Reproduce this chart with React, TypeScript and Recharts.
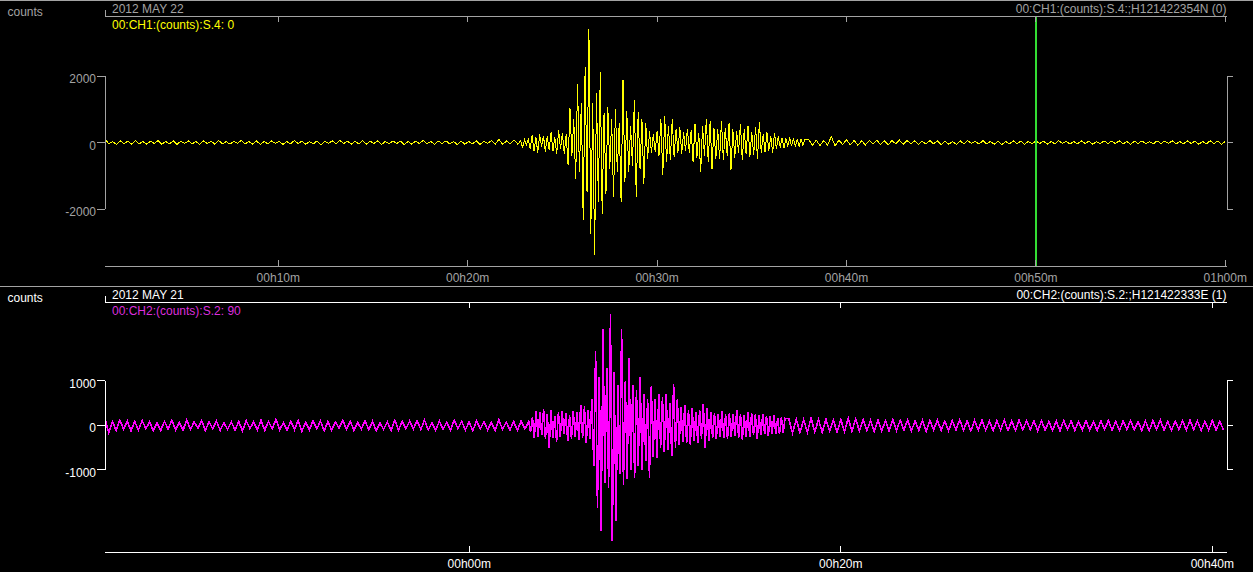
import React from 'react'
import { LineChart, Line, XAxis, YAxis, ReferenceLine } from 'recharts'

// CH1 – counts sampled in blocks (start minute, step in minutes)
const ch1PreStart = 0.85
const ch1PreStep = 0.2
const ch1Pre = [
  120, -40, 30, -60, 50, -30, 40, -50, 60, -40,
  30, -50, 40, -30, 60, -50, 30, -40, 50, -60,
  40, -30, 50, -40, 30, -60, 50, -30, 40, -50,
  60, -40, 30, -50, 40, -30, 70, -40, 30, -50,
  50, -60, 30, -40, 50, -30, 40, -60, 30, -40,
  60, -30, 40, -50, 30, -40, 50, -70, 40, -30,
  50, -40, 60, -30, 40, -50, 30, -40, 60, -50,
  40, -30, 50, -60, 30, -40, 50, -30, 40, -60,
  30, -50, 40, -30, 60, -40, 30, -50, 40, -30,
  50, -40, 30, -60, 40, -50, 30, -40, 50, -60,
  40, -30, 60, -50, 90, -60, 50, -40, 70, -50,
]
const ch1EventStart = 22.8
const ch1EventStep = 0.1
const ch1Event = [
  60, -160, 90, -70, 100, -180, 220, -250, 150, -300,
  240, -120, 200, -280, 180, -220, 300, -260, 150, -340,
  360, -200, 280, -330, 250, -690, 1040, -400, 700, -1100,
  1760, -900, 1200, -2340, 2260, -1500, 3410, -2740, 1200, -3390,
  1500, -1800, 2110, -2140, 900, -1540, 1060, -800, 700, -1640,
  1010, -900, 600, -1790, 1880, -1200, 960, -900, 500, -700,
  1280, -1640, 910, -800, 700, -1240, 600, -500, 350, -300,
  250, -280, 350, -400, 700, -990, 810, -600, 500, -540,
  710, -450, 400, -300, 460, -340, 300, -250, 420, -300,
  380, -600, 560, -450, 300, -890, 500, -400, 710, -600,
  650, -790, 450, -500, 400, -500, 660, -540, 450, -400,
  600, -840, 400, -450, 350, -300, 550, -540, 400, -350,
  500, -420, 300, -380, 480, -500, 610, -300, 250, -280,
  300, -250, 200, -300, 280, -200, 180, -150, 140, -160,
  130, -120, 150, -110, 120, -100, 90, -110, 100, -90,
  80,
]
const ch1CodaStart = 38.0
const ch1CodaStep = 0.2
const ch1Coda = [
  90, -80, 70, -90, 60, -80, 180, -100, 70, -60,
  80, -70, 60, -80, 50, -70, 60, -50, 70, -60,
  50, -70, 60, -40, 70, -50, 60, -40, 50, -60,
  40, -50, 60, -40, 50, -60, 40, -50, 30, -60,
  50, -40, 60, -30, 40, -50, 60, -40, 30, -50,
  40, -60, 30, -40, 50, -30, 40, -50, 30, -40,
  50, -30, 40, -50, 30, -40, 60, -30, 40, -50,
  30, -40, 50, -30, 40, -50, 30, -40, 50, -30,
  40, -30, 50, -40, 30, -50, 40, -30, 50, -40,
  30, -40, 50, -30, 40, -30, 50, -40, 30, -40,
  50, -30, 40, -50, 30, -40, 50, -30, 40, -50, 30,
]

// CH2
const ch2PreStart = -19.61
const ch2PreStep = 0.2
const ch2Pre = [
  150, -160, 90, -110, 120, -80, 100, -120, 90, -100,
  110, -70, 80, -120, 60, -110, 90, -80, 120, -100,
  70, -110, 130, -90, 80, -60, 110, -120, 90, -80,
  100, -110, 60, -90, 80, -100, 90, -120, 110, -70,
  80, -100, 120, -110, 90, -80, 140, -100, 60, -110,
  100, -90, 120, -130, 70, -100, 110, -80, 100, -120,
  90, -110, 80, -60, 120, -90, 100, -110, 70, -80,
  110, -100, 90, -120, 60, -90, 80, -110, 120, -100,
  90, -70, 100, -80, 110, -90, 120, -100, 60, -110,
  100, -90, 80, -110, 120, -70, 90, -100, 80, -120,
  110, -80, 90, -100, 70, -110, 130, -90, 80, -100,
  90, -110, 100, -80,
]
const ch2EventStart = 3.2
const ch2EventStep = 0.1
const ch2Event = [
  90, -150, 200, -280, 330, -260, 300, -220, 360, -300,
  250, -500, 340, -280, 220, -380, 300, -260, 320, -200,
  280, -350, 240, -300, 330, -260, 300, -320, 470, -280,
  430, -400, 350, -300, 600, -900, 1670, -1850, 1100, -2380,
  2160, -1300, 1300, -1400, 2510, -2600, 1200, -2150, 900, -1100,
  2160, -1330, 1000, -1200, 1520, -1000, 920, -1180, 800, -900,
  1100, -1000, 700, -800, 600, -1170, 880, -700, 600, -730,
  700, -500, 650, -600, 700, -550, 500, -690, 940, -500,
  600, -430, 420, -380, 470, -400, 350, -430, 400, -350,
  300, -400, 350, -300, 490, -500, 400, -350, 300, -280,
  280, -300, 260, -250, 320, -280, 250, -300, 280, -260,
  260, -230, 350, -280, 250, -320, 230, -260, 300, -250,
  280, -220, 250, -300, 230, -220, 260, -200, 220, -240,
  200, -180, 230, -190, 170, -200, 190, -170, 160,
]
const ch2CodaStart = 17.2
const ch2CodaStep = 0.2
const ch2Coda = [
  150, -170, 140, -160, 130, -150, 160, -140, 130, -150,
  140, -130, 120, -150, 130, -140, 170, -130, 150, -120,
  130, -120, 110, -140, 120, -130, 110, -120, 130, -110,
  120, -110, 130, -120, 100, -110, 120, -130, 110, -100,
  120, -110, 100, -120, 110, -100, 130, -110, 100, -120,
  110, -100, 120, -110, 100, -120, 110, -100, 120, -110,
  100, -110, 120, -100, 110, -90, 100, -120, 110, -100,
  90, -110, 100, -120, 110, -90, 100, -110, 90, -100,
  110, -100, 90, -110, 100, -90, 110, -100, 90, -110,
  100, -90, 110, -100, 90, -110, 100, -120, 110, -90,
  120, -100, 90, -110, 100, -90, 110, -100, 120, -90,
  100, -110, 90, -100, 110, -100, 90, -100,
]

const ch1TimeRange = [0.85, 60.09]
const ch1CountRange = [-3714, 3805]
const ch1TimeTicks = [10, 20, 30, 40, 50, 60]
const ch1TimeLabels = ['00h10m', '00h20m', '00h30m', '00h40m', '00h50m', '01h00m']
const ch1CountTicks = [-2000, 0, 2000]
const ch1Pick = 50

const ch2TimeRange = [-19.61, 40.79]
const ch2CountRange = [-2843, 2775]
const ch2TimeTicks = [0, 20, 40]
const ch2TimeLabels = ['00h00m', '00h20m', '00h40m']
const ch2CountTicks = [-1000, 0, 1000]

type Pt = { t: number; v: number }

function samples(blocks: [number, number, number[]][]): Pt[] {
  return blocks.flatMap(([start, step, vals]) =>
    vals.map((v, i) => ({ t: +(start + i * step).toFixed(3), v }))
  )
}

const ch1Data = samples([
  [ch1PreStart, ch1PreStep, ch1Pre],
  [ch1EventStart, ch1EventStep, ch1Event],
  [ch1CodaStart, ch1CodaStep, ch1Coda],
])
const ch2Data = samples([
  [ch2PreStart, ch2PreStep, ch2Pre],
  [ch2EventStart, ch2EventStep, ch2Event],
  [ch2CodaStart, ch2CodaStep, ch2Coda],
])

const FONT = '"Liberation Sans", Arial, sans-serif'

type PanelProps = {
  data: Pt[]
  timeRange: number[]
  countRange: number[]
  timeTicks: number[]
  timeLabels: string[]
  countTicks: number[]
  trace: string
  traceWidth: number
  frame: string
  pick?: number
}

function Panel(p: PanelProps) {
  const [t0, t1] = p.timeRange
  const cLo = p.countTicks[0]
  const cHi = p.countTicks[p.countTicks.length - 1]
  const label = (v: number) => p.timeLabels[p.timeTicks.indexOf(v)] ?? ''
  return (
    <LineChart width={1253} height={286} data={p.data} margin={{ top: 10, right: 16, bottom: 0, left: 55 }}>
      <XAxis
        dataKey="t" type="number" domain={p.timeRange} allowDataOverflow
        ticks={p.timeTicks} interval={0} height={20}
        axisLine={{ stroke: p.frame }} tickLine={false} tickSize={0} tickMargin={0}
        tick={(k: any) => (
          <g>
            <line x1={k.x} x2={k.x} y1={k.y} y2={k.y - 6} stroke={p.frame} />
            <text x={k.x} y={k.y + 15.5} textAnchor="middle" fill={p.frame} fontSize={12} fontFamily={FONT}>
              {label(k.payload.value)}
            </text>
          </g>
        )}
      />
      <XAxis
        xAxisId="top" orientation="top" dataKey="t" type="number" domain={p.timeRange} allowDataOverflow
        ticks={[t0, ...p.timeTicks]} interval={0} height={6}
        axisLine={{ stroke: p.frame }} tickLine={false} tickSize={0} tickMargin={0}
        tick={(k: any) => (
          <line x1={k.x} x2={k.x} y1={k.y} y2={k.payload.value === t0 ? k.y - 6 : k.y + 6} stroke={p.frame} />
        )}
      />
      <YAxis
        type="number" domain={p.countRange} allowDataOverflow ticks={p.countTicks} interval={0}
        width={50} axisLine={false} tickLine={{ stroke: p.frame }} tickSize={8} tickMargin={1}
        tick={(k: any) => (
          <text x={k.x} y={k.y + 7} textAnchor="end" fill={p.frame} fontSize={12} fontFamily={FONT}>
            {k.payload.value}
          </text>
        )}
      />
      <YAxis
        yAxisId="right" orientation="right" type="number" domain={p.countRange} allowDataOverflow
        ticks={p.countTicks} interval={0} width={10} axisLine={false}
        tickLine={false} tickSize={0} tickMargin={0}
        tick={(k: any) => <line x1={k.x} x2={k.x + 6} y1={k.y} y2={k.y} stroke={p.frame} />}
      />
      <Line type="linear" dataKey="v" stroke={p.trace} strokeWidth={p.traceWidth} dot={false} activeDot={false} isAnimationActive={false} />
      <ReferenceLine ifOverflow="visible" stroke={p.frame} segment={[{ x: t0, y: cHi }, { x: t0, y: cLo }]} />
      <ReferenceLine ifOverflow="visible" stroke={p.frame} segment={[{ x: t1, y: cHi }, { x: t1, y: cLo }]} />
      {p.pick !== undefined && <ReferenceLine x={p.pick} stroke="#33dd33" strokeWidth={2} />}
    </LineChart>
  )
}

export default function App() {
  const gray = '#a3a3a3'
  const white = '#ffffff'
  return (
    <div style={{ position: 'absolute', left: 0, top: 0, width: 1253, height: 572, background: '#000', overflow: 'hidden', fontFamily: FONT, shapeRendering: 'crispEdges' }}>
      <div style={{ position: 'absolute', left: 0, top: 0 }}>
        <Panel data={ch1Data} timeRange={ch1TimeRange} countRange={ch1CountRange} timeTicks={ch1TimeTicks}
          timeLabels={ch1TimeLabels} countTicks={ch1CountTicks} trace="#ffff00" traceWidth={1} frame={gray} pick={ch1Pick} />
      </div>
      <div style={{ position: 'absolute', left: 0, top: 286 }}>
        <Panel data={ch2Data} timeRange={ch2TimeRange} countRange={ch2CountRange} timeTicks={ch2TimeTicks}
          timeLabels={ch2TimeLabels} countTicks={ch2CountTicks} trace="#ff00ff" traceWidth={1.6} frame={white} />
      </div>
      <svg width={1253} height={572} style={{ position: 'absolute', left: 0, top: 0, pointerEvents: 'none' }} fontFamily={FONT} fontSize={12}>
        <line x1={0} x2={1253} y1={0.5} y2={0.5} stroke={gray} />
        <line x1={0} x2={1253} y1={286.5} y2={286.5} stroke={gray} />
        <text x={7.5} y={16} fill={gray}>counts</text>
        <text x={112} y={13.3} fill={gray}>2012 MAY 22</text>
        <text x={112} y={28.7} fill="#ffff00">00:CH1:(counts):S.4: 0</text>
        <text x={1226.5} y={13} fill={gray} textAnchor="end">00:CH1:(counts):S.4:;H121422354N (0)</text>
        <text x={7.5} y={301.7} fill={white}>counts</text>
        <text x={112} y={299.3} fill={white}>2012 MAY 21</text>
        <text x={112} y={314.7} fill="#dd2edd">00:CH2:(counts):S.2: 90</text>
        <text x={1226.5} y={299} fill={white} textAnchor="end">00:CH2:(counts):S.2:;H121422333E (1)</text>
      </svg>
    </div>
  )
}
